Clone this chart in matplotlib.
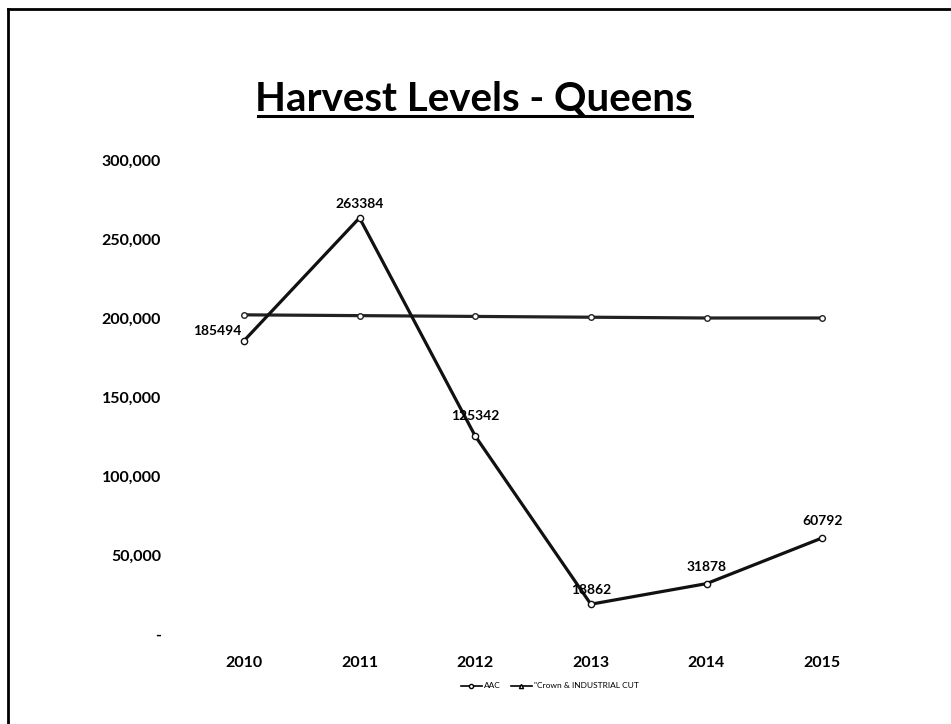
import numpy as np
import matplotlib.pyplot as plt
from matplotlib.lines import Line2D

years = ['2010', '2011', '2012', '2013', '2014', '2015']
aac = [202000, 201500, 201000, 200500, 200000, 200000]
crown_cut = [185494, 263384, 125342, 18862, 31878, 60792]
yticks = [0, 50000, 100000, 150000, 200000, 250000, 300000]
ytick_labels = ['-', '50,000', '100,000', '150,000', '200,000', '250,000', '300,000']

plt.rcParams['font.family'] = ['Lato', 'DejaVu Sans']

fig = plt.figure(figsize=(9.51, 7.24), dpi=100)
ax = fig.add_axes([186/951, 1-634/724, (880-186)/951, (634-160)/724])

x = np.arange(len(years))
ax.plot(x, aac, color='#222222', lw=2.3, marker='o', ms=4,
        mfc='white', mec='#222222', mew=1)
ax.plot(x, crown_cut, color='#111111', lw=2.3, marker='o', ms=4.5,
        mfc='white', mec='#111111', mew=1)

offsets = [(-19, 3), (0, 6), (0, 10), (0, 6), (0, 8), (0, 8)]
for xi, v, off in zip(x, crown_cut, offsets):
    ax.annotate(str(v), (xi, v), xytext=off, textcoords='offset points',
                ha='center', va='bottom', fontsize=10, fontweight='bold')

ax.set_xlim(-0.5, len(years)-0.5)
ax.set_ylim(0, 300000)
ax.set_xticks(x)
ax.set_xticklabels(years, fontsize=11.5, fontweight='bold')
ax.set_yticks(yticks)
ax.set_yticklabels(ytick_labels, fontsize=11.5, fontweight='bold')
ax.tick_params(length=0, pad=18)
ax.tick_params(axis='x', pad=16)
for s in ax.spines.values():
    s.set_visible(False)

fig.text(474/951, 1-99/724, 'Harvest Levels - Queens', ha='center', va='center',
         fontsize=29, fontweight='bold')
fig.add_artist(Line2D([258/951, 692/951], [1-116/724, 1-116/724], color='black', lw=2.2))

# frame lines from the scanned slide
fig.add_artist(Line2D([8/951, 951/951], [1-9/724, 1-9/724], color='black', lw=2))
fig.add_artist(Line2D([8/951, 8/951], [1-9/724, 0], color='black', lw=2))

handles = [Line2D([], [], color='black', lw=1.2, marker='o', ms=3, mfc='white'),
           Line2D([], [], color='black', lw=1.2, marker='^', ms=3, mfc='white')]
fig.legend(handles, ['AAC', '"Crown & INDUSTRIAL CUT'], loc='center',
           bbox_to_anchor=(550/951, 1-686/724), ncol=2, frameon=False,
           fontsize=6, handlelength=2.5, columnspacing=1.2, handletextpad=0.3)

fig.savefig('out.png', dpi=100)
